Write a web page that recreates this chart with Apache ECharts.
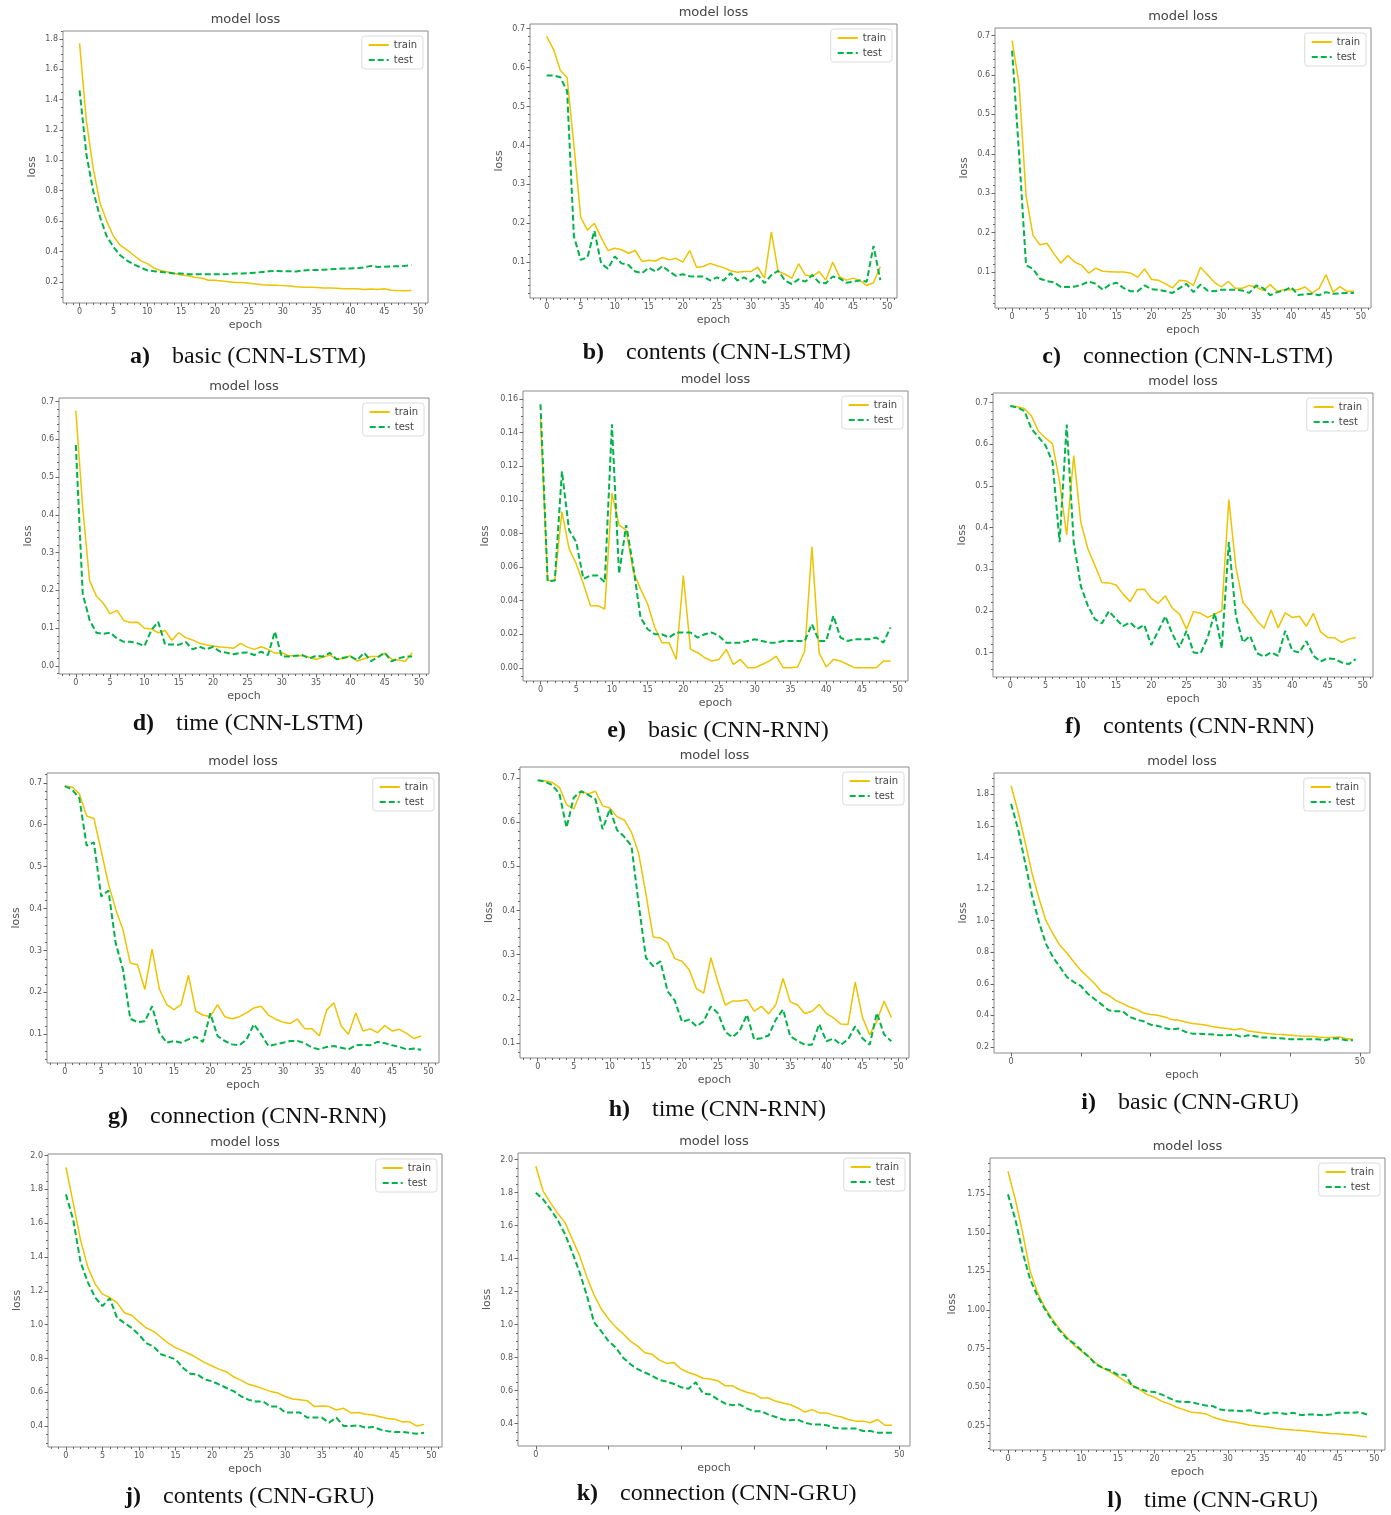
<!DOCTYPE html>
<html>
<head>
<meta charset="utf-8">
<title>model loss</title>
<script src="https://cdn.jsdelivr.net/npm/echarts@6/dist/echarts.min.js"></script>
<style>
html,body{margin:0;padding:0;background:#fff;}
#chart{width:1391px;height:1515px;}
</style>
</head>
<body>
<div id="chart"></div>
<script>
// epochs and tick labels
const epochs = [0,1,2,3,4,5,6,7,8,9,10,11,12,13,14,15,16,17,18,19,20,21,22,23,24,25,26,27,28,29,30,31,32,33,34,35,36,37,38,39,40,41,42,43,44,45,46,47,48,49];
const xTicksFive = [0,5,10,15,20,25,30,35,40,45,50];
const xTicksTen = [0,10,20,30,40,50];
const xLabelsEnds = [0,50];
const yTicks18 = [0.2,0.4,0.6,0.8,1.0,1.2,1.4,1.6,1.8];
const yTicks07 = [0.1,0.2,0.3,0.4,0.5,0.6,0.7];
const yTicks07z = [0.0,0.1,0.2,0.3,0.4,0.5,0.6,0.7];
const yTicks016 = [0,0.02,0.04,0.06,0.08,0.10,0.12,0.14,0.16];
const yTicks20 = [0.4,0.6,0.8,1.0,1.2,1.4,1.6,1.8,2.0];
const yTicksQuarter = [0.25,0.5,0.75,1.0,1.25,1.5,1.75];

// a) basic (CNN-LSTM)
const basicLstmTrain = [1.77,1.26,0.95,0.72,0.60,0.50,0.44,0.41,0.375,0.34,0.32,0.29,0.275,0.265,0.255,0.245,0.24,0.23,0.225,0.21,0.21,0.205,0.20,0.195,0.195,0.19,0.185,0.18,0.178,0.178,0.175,0.172,0.168,0.165,0.165,0.163,0.16,0.16,0.158,0.155,0.155,0.155,0.15,0.153,0.15,0.155,0.145,0.143,0.142,0.143];
const basicLstmTest = [1.46,1.04,0.80,0.63,0.50,0.43,0.375,0.34,0.315,0.295,0.275,0.27,0.265,0.26,0.255,0.255,0.25,0.25,0.25,0.25,0.25,0.25,0.252,0.255,0.255,0.258,0.26,0.265,0.27,0.272,0.27,0.27,0.268,0.275,0.278,0.278,0.28,0.282,0.285,0.287,0.288,0.29,0.295,0.305,0.298,0.30,0.302,0.303,0.305,0.31];
// b) contents (CNN-LSTM)
const contentsLstmTrain = [0.68,0.647,0.593,0.574,0.40,0.215,0.182,0.20,0.163,0.13,0.136,0.132,0.123,0.13,0.102,0.105,0.103,0.112,0.106,0.11,0.10,0.13,0.087,0.089,0.097,0.091,0.086,0.078,0.074,0.076,0.076,0.087,0.059,0.178,0.076,0.069,0.059,0.096,0.067,0.063,0.076,0.054,0.10,0.063,0.054,0.059,0.053,0.04,0.047,0.089];
const contentsLstmTest = [0.58,0.58,0.575,0.54,0.166,0.106,0.113,0.181,0.097,0.083,0.115,0.097,0.093,0.076,0.072,0.086,0.076,0.09,0.076,0.065,0.069,0.064,0.063,0.063,0.053,0.061,0.053,0.072,0.053,0.061,0.05,0.067,0.046,0.067,0.078,0.053,0.044,0.056,0.05,0.067,0.048,0.046,0.063,0.059,0.047,0.05,0.053,0.05,0.142,0.054];
// c) connection (CNN-LSTM)
const connectionLstmTrain = [0.687,0.577,0.294,0.193,0.169,0.173,0.146,0.123,0.142,0.125,0.117,0.097,0.11,0.102,0.101,0.10,0.10,0.097,0.087,0.108,0.081,0.079,0.07,0.06,0.079,0.077,0.066,0.112,0.093,0.074,0.062,0.076,0.059,0.059,0.066,0.062,0.053,0.068,0.051,0.055,0.055,0.055,0.062,0.047,0.058,0.093,0.049,0.063,0.051,0.051];
const connectionLstmTest = [0.662,0.40,0.117,0.108,0.083,0.077,0.074,0.062,0.062,0.063,0.068,0.076,0.07,0.055,0.068,0.073,0.059,0.051,0.051,0.066,0.056,0.055,0.051,0.047,0.059,0.07,0.049,0.068,0.053,0.051,0.055,0.055,0.055,0.053,0.047,0.066,0.059,0.041,0.049,0.053,0.062,0.042,0.043,0.045,0.041,0.049,0.045,0.046,0.047,0.047];
// d) time (CNN-LSTM)
const timeLstmTrain = [0.676,0.42,0.226,0.185,0.166,0.138,0.147,0.12,0.115,0.116,0.10,0.098,0.088,0.094,0.068,0.088,0.075,0.069,0.06,0.056,0.053,0.05,0.049,0.047,0.06,0.05,0.044,0.051,0.044,0.034,0.035,0.027,0.027,0.028,0.023,0.018,0.023,0.029,0.018,0.02,0.027,0.013,0.019,0.025,0.025,0.034,0.018,0.016,0.012,0.035];
const timeLstmTest = [0.585,0.192,0.122,0.088,0.085,0.088,0.073,0.064,0.064,0.06,0.053,0.095,0.117,0.057,0.057,0.056,0.064,0.044,0.051,0.044,0.051,0.038,0.035,0.031,0.035,0.036,0.029,0.038,0.029,0.091,0.025,0.025,0.027,0.029,0.02,0.027,0.025,0.035,0.018,0.022,0.025,0.016,0.035,0.013,0.023,0.035,0.012,0.02,0.025,0.025];
// e) basic (CNN-RNN)
const basicRnnTrain = [0.148,0.052,0.052,0.093,0.071,0.062,0.05,0.037,0.037,0.035,0.104,0.085,0.082,0.057,0.047,0.038,0.024,0.015,0.015,0.005,0.055,0.011,0.009,0.006,0.004,0.005,0.011,0.002,0.005,0.0,0.0,0.002,0.004,0.007,0.0,0.0,0.0005,0.01,0.072,0.009,0.0005,0.005,0.004,0.002,0.0,0.0,0.0,0.0,0.004,0.004];
const basicRnnTest = [0.157,0.0515,0.052,0.117,0.082,0.075,0.053,0.055,0.055,0.051,0.145,0.056,0.085,0.06,0.03,0.023,0.02,0.02,0.018,0.021,0.021,0.021,0.018,0.02,0.021,0.019,0.015,0.015,0.015,0.016,0.017,0.016,0.015,0.015,0.016,0.016,0.016,0.016,0.026,0.016,0.016,0.031,0.018,0.016,0.017,0.017,0.017,0.018,0.015,0.024];
// f) contents (CNN-RNN)
const contentsRnnTrain = [0.692,0.69,0.686,0.668,0.631,0.615,0.601,0.509,0.382,0.573,0.413,0.349,0.309,0.268,0.267,0.262,0.24,0.222,0.251,0.252,0.23,0.218,0.236,0.206,0.192,0.156,0.198,0.194,0.184,0.192,0.20,0.467,0.305,0.22,0.20,0.176,0.158,0.202,0.159,0.195,0.184,0.187,0.163,0.194,0.15,0.136,0.135,0.124,0.132,0.136];
const contentsRnnTest = [0.692,0.688,0.68,0.637,0.617,0.597,0.557,0.365,0.647,0.365,0.26,0.212,0.18,0.17,0.199,0.18,0.163,0.172,0.156,0.166,0.118,0.152,0.187,0.144,0.112,0.152,0.10,0.098,0.136,0.195,0.11,0.365,0.188,0.124,0.14,0.098,0.09,0.10,0.092,0.152,0.104,0.10,0.127,0.092,0.078,0.086,0.084,0.076,0.072,0.084];
// g) connection (CNN-RNN)
const connectionRnnTrain = [0.692,0.69,0.674,0.621,0.615,0.538,0.459,0.398,0.349,0.27,0.266,0.207,0.303,0.208,0.171,0.159,0.171,0.241,0.155,0.146,0.142,0.171,0.142,0.137,0.142,0.151,0.163,0.167,0.146,0.136,0.129,0.126,0.136,0.113,0.113,0.096,0.158,0.175,0.12,0.10,0.151,0.108,0.113,0.104,0.121,0.108,0.112,0.102,0.09,0.096];
const connectionRnnTest = [0.692,0.684,0.663,0.55,0.558,0.429,0.443,0.317,0.254,0.137,0.129,0.131,0.167,0.104,0.08,0.084,0.08,0.088,0.094,0.082,0.15,0.096,0.084,0.076,0.074,0.088,0.124,0.10,0.072,0.076,0.08,0.084,0.084,0.079,0.068,0.064,0.07,0.072,0.068,0.064,0.074,0.075,0.074,0.082,0.079,0.074,0.07,0.064,0.066,0.063];
// h) time (CNN-RNN)
const timeRnnTrain = [0.695,0.694,0.69,0.679,0.64,0.63,0.67,0.664,0.67,0.637,0.632,0.612,0.605,0.577,0.529,0.437,0.34,0.338,0.327,0.291,0.285,0.266,0.223,0.213,0.293,0.236,0.186,0.195,0.195,0.198,0.172,0.183,0.166,0.187,0.246,0.193,0.186,0.167,0.172,0.187,0.167,0.157,0.143,0.142,0.238,0.158,0.119,0.149,0.195,0.158];
const timeRnnTest = [0.695,0.692,0.684,0.665,0.588,0.656,0.67,0.662,0.652,0.584,0.63,0.582,0.567,0.546,0.414,0.293,0.274,0.285,0.217,0.196,0.148,0.153,0.138,0.149,0.183,0.167,0.125,0.113,0.128,0.164,0.108,0.111,0.117,0.153,0.176,0.115,0.105,0.096,0.096,0.143,0.104,0.11,0.096,0.108,0.138,0.111,0.096,0.168,0.119,0.104];
// i) basic (CNN-GRU)
const basicGruTrain = [1.855,1.69,1.50,1.30,1.14,1.0,0.917,0.843,0.795,0.738,0.685,0.643,0.60,0.548,0.527,0.495,0.474,0.453,0.438,0.415,0.405,0.40,0.39,0.373,0.369,0.358,0.348,0.343,0.337,0.327,0.322,0.316,0.308,0.316,0.30,0.295,0.289,0.284,0.28,0.278,0.274,0.27,0.268,0.268,0.263,0.259,0.259,0.263,0.253,0.249];
const basicGruTest = [1.74,1.58,1.37,1.16,0.99,0.853,0.769,0.706,0.643,0.611,0.586,0.537,0.502,0.468,0.432,0.426,0.426,0.39,0.373,0.362,0.341,0.333,0.32,0.31,0.316,0.295,0.284,0.284,0.28,0.278,0.274,0.274,0.278,0.263,0.274,0.268,0.259,0.259,0.257,0.253,0.249,0.249,0.249,0.249,0.249,0.242,0.253,0.253,0.242,0.242];
// j) contents (CNN-GRU)
const contentsGruTrain = [1.93,1.72,1.50,1.34,1.24,1.18,1.16,1.13,1.07,1.055,1.016,0.98,0.96,0.925,0.89,0.864,0.845,0.825,0.80,0.775,0.755,0.735,0.72,0.69,0.67,0.647,0.635,0.62,0.605,0.595,0.575,0.56,0.555,0.55,0.515,0.518,0.515,0.495,0.505,0.478,0.48,0.47,0.465,0.455,0.445,0.44,0.425,0.425,0.40,0.41];
const contentsGruTest = [1.77,1.62,1.37,1.25,1.16,1.11,1.155,1.04,1.01,0.98,0.94,0.89,0.87,0.825,0.81,0.795,0.745,0.71,0.705,0.675,0.665,0.645,0.625,0.605,0.575,0.555,0.545,0.545,0.515,0.515,0.48,0.48,0.48,0.45,0.45,0.45,0.42,0.45,0.40,0.40,0.405,0.39,0.395,0.38,0.37,0.365,0.365,0.36,0.355,0.36];
// k) connection (CNN-GRU)
const connectionGruTrain = [1.96,1.81,1.74,1.675,1.62,1.52,1.42,1.29,1.18,1.095,1.035,0.985,0.945,0.90,0.87,0.83,0.82,0.785,0.765,0.77,0.73,0.71,0.695,0.675,0.67,0.66,0.63,0.63,0.607,0.59,0.58,0.555,0.555,0.535,0.525,0.515,0.495,0.47,0.485,0.465,0.465,0.45,0.44,0.425,0.415,0.415,0.405,0.425,0.39,0.39];
const connectionGruTest = [1.80,1.76,1.70,1.635,1.55,1.44,1.32,1.18,1.015,0.96,0.90,0.86,0.80,0.76,0.73,0.71,0.69,0.665,0.655,0.64,0.62,0.612,0.65,0.583,0.577,0.547,0.522,0.512,0.516,0.492,0.475,0.475,0.455,0.44,0.425,0.42,0.425,0.405,0.395,0.395,0.39,0.375,0.37,0.37,0.37,0.355,0.355,0.345,0.345,0.345];
// l) time (CNN-GRU)
const timeGruTrain = [1.90,1.718,1.503,1.256,1.116,1.019,0.944,0.88,0.826,0.772,0.733,0.697,0.654,0.622,0.596,0.568,0.536,0.51,0.482,0.45,0.433,0.407,0.39,0.368,0.353,0.336,0.332,0.325,0.304,0.289,0.278,0.271,0.263,0.252,0.246,0.241,0.235,0.228,0.224,0.22,0.218,0.213,0.207,0.203,0.198,0.196,0.192,0.188,0.181,0.177];
const timeGruTest = [1.75,1.589,1.374,1.202,1.094,1.009,0.933,0.869,0.815,0.783,0.74,0.697,0.647,0.622,0.607,0.579,0.579,0.504,0.489,0.471,0.467,0.45,0.428,0.407,0.402,0.402,0.39,0.379,0.375,0.353,0.347,0.347,0.342,0.349,0.332,0.325,0.332,0.332,0.325,0.332,0.317,0.321,0.321,0.317,0.321,0.332,0.332,0.332,0.336,0.321];

// panel layout: box = [left, top, width, height], cap = [text x, text y]
const panels = [
    {tag:'a)', caption:'basic (CNN-LSTM)', train:basicLstmTrain, test:basicLstmTest, yTicks:yTicks18, digits:1, xTicks:xTicksFive, xLabels:xTicksFive, xMinor:true, box:[63,31,365,272], cap:[172,357], nameGap:25},
    {tag:'b)', caption:'contents (CNN-LSTM)', train:contentsLstmTrain, test:contentsLstmTest, yTicks:yTicks07, digits:1, xTicks:xTicksFive, xLabels:xTicksFive, xMinor:true, box:[530,24,367,274], cap:[626,353], nameGap:25},
    {tag:'c)', caption:'connection (CNN-LSTM)', train:connectionLstmTrain, test:connectionLstmTest, yTicks:yTicks07, digits:1, xTicks:xTicksFive, xLabels:xTicksFive, xMinor:true, box:[995,28,376,280], cap:[1083,357], nameGap:25},
    {tag:'d)', caption:'time (CNN-LSTM)', train:timeLstmTrain, test:timeLstmTest, yTicks:yTicks07z, digits:1, xTicks:xTicksFive, xLabels:xTicksFive, xMinor:true, box:[59,398,370,276], cap:[176,724], nameGap:25},
    {tag:'e)', caption:'basic (CNN-RNN)', train:basicRnnTrain, test:basicRnnTest, yTicks:yTicks016, digits:2, xTicks:xTicksFive, xLabels:xTicksFive, xMinor:true, box:[523,391,385,290], cap:[648,731], nameGap:32},
    {tag:'f)', caption:'contents (CNN-RNN)', train:contentsRnnTrain, test:contentsRnnTest, yTicks:yTicks07, digits:1, xTicks:xTicksFive, xLabels:xTicksFive, xMinor:true, box:[993,393,380,284], cap:[1103,727], nameGap:25},
    {tag:'g)', caption:'connection (CNN-RNN)', train:connectionRnnTrain, test:connectionRnnTest, yTicks:yTicks07, digits:1, xTicks:xTicksFive, xLabels:xTicksFive, xMinor:true, box:[47,773,392,290], cap:[150,1117], nameGap:25},
    {tag:'h)', caption:'time (CNN-RNN)', train:timeRnnTrain, test:timeRnnTest, yTicks:yTicks07, digits:1, xTicks:xTicksFive, xLabels:xTicksFive, xMinor:true, box:[520,767,389,291], cap:[652,1110], nameGap:25},
    {tag:'i)', caption:'basic (CNN-GRU)', train:basicGruTrain, test:basicGruTest, yTicks:yTicks18, digits:1, xTicks:xTicksTen, xLabels:xLabelsEnds, xMinor:false, box:[994,773,376,280], cap:[1118,1103], nameGap:25},
    {tag:'j)', caption:'contents (CNN-GRU)', train:contentsGruTrain, test:contentsGruTest, yTicks:yTicks20, digits:1, xTicks:xTicksFive, xLabels:xTicksFive, xMinor:true, box:[48,1154,394,293], cap:[163,1497], nameGap:25},
    {tag:'k)', caption:'connection (CNN-GRU)', train:connectionGruTrain, test:connectionGruTest, yTicks:yTicks20, digits:1, xTicks:xTicksTen, xLabels:xLabelsEnds, xMinor:false, box:[518,1153,392,293], cap:[620,1494], nameGap:25},
    {tag:'l)', caption:'time (CNN-GRU)', train:timeGruTrain, test:timeGruTest, yTicks:yTicksQuarter, digits:2, xTicks:xTicksFive, xLabels:xTicksFive, xMinor:true, box:[990,1158,395,292], cap:[1144,1501], nameGap:32}
];

const W = 1391;
const X_MIN = -2.45, X_MAX = 51.45;
const trainColor = '#EEC300';
const testColor = '#00B34A';
const sans = '"DejaVu Sans", sans-serif';
const serif = '"Liberation Serif", "Times New Roman", serif';

// matplotlib style minor ticks between the major ones
function minorTicks(ticks, min, max) {
    const step = ticks[1] - ticks[0];
    const mant = step / Math.pow(10, Math.floor(Math.log10(step) + 1e-9));
    const nd = [1, 2.5, 5, 10].some(m => Math.abs(mant - m) < 1e-6) ? 5 : 4;
    const ms = step / nd;
    const out = [];
    const start = Math.ceil((min - ticks[0]) / ms - 1e-9);
    for (let k = start; ticks[0] + k * ms <= max + 1e-9; k++) {
        if (((k % nd) + nd) % nd !== 0) out.push(+(ticks[0] + k * ms).toFixed(6));
    }
    return out;
}

const grid = [], xAxis = [], yAxis = [], series = [], legend = [], graphic = [];
const tickLine = {color:'#666', width:1};
const labelStyle = {fontSize:8, color:'#555', fontFamily:sans};
const nameStyle = {fontSize:11, color:'#555', fontFamily:sans};
const noLine = {show:false, onZero:false};

panels.forEach((p, i) => {
    const [l, t, w, h] = p.box;
    grid.push({left:l, top:t, width:w, height:h, show:true, borderColor:'#8a8a8a', borderWidth:1, backgroundColor:'#fff'});

    const all = p.train.concat(p.test);
    const lo = Math.min(...all), hi = Math.max(...all), pad = (hi - lo) * 0.05;
    const yMin = lo - pad, yMax = hi + pad;
    const yMajor = p.yTicks.filter(v => v >= yMin && v <= yMax);

    xAxis.push({
        gridIndex:i, type:'value', position:'bottom', min:X_MIN, max:X_MAX,
        name:'epoch', nameLocation:'middle', nameGap:17, nameTextStyle:nameStyle,
        axisLine:noLine, splitLine:{show:false},
        axisTick:{show:true, length:3.5, lineStyle:tickLine, customValues:p.xTicks},
        axisLabel:Object.assign({customValues:p.xLabels, margin:5}, labelStyle)
    });
    xAxis.push({
        gridIndex:i, type:'value', position:'bottom', min:X_MIN, max:X_MAX,
        axisLine:noLine, splitLine:{show:false}, axisLabel:{show:false},
        axisTick:p.xMinor ? {show:true, length:2, lineStyle:tickLine, customValues:minorTicks(p.xTicks, X_MIN, X_MAX)} : {show:false}
    });
    yAxis.push({
        gridIndex:i, type:'value', position:'left', min:yMin, max:yMax,
        name:'loss', nameLocation:'middle', nameGap:p.nameGap, nameRotate:90, nameTextStyle:nameStyle,
        axisLine:noLine, splitLine:{show:false},
        axisTick:{show:true, length:3.5, lineStyle:tickLine, customValues:yMajor},
        axisLabel:Object.assign({customValues:yMajor, margin:5, formatter:v => (+v).toFixed(p.digits)}, labelStyle)
    });
    yAxis.push({
        gridIndex:i, type:'value', position:'left', min:yMin, max:yMax,
        axisLine:noLine, splitLine:{show:false}, axisLabel:{show:false},
        axisTick:{show:true, length:2, lineStyle:tickLine, customValues:minorTicks(p.yTicks, yMin, yMax)}
    });

    series.push({
        name:'train', type:'line', xAxisIndex:2 * i, yAxisIndex:2 * i,
        data:epochs.map((e, k) => [e, p.train[k]]),
        symbol:'none', z:3,
        lineStyle:{color:trainColor, width:1.5},
        itemStyle:{color:trainColor}
    });
    series.push({
        name:'test', type:'line', xAxisIndex:2 * i, yAxisIndex:2 * i,
        data:epochs.map((e, k) => [e, p.test[k]]),
        symbol:'none', z:4,
        lineStyle:{color:testColor, width:2, type:[6, 3]},
        itemStyle:{color:testColor}
    });

    legend.push({
        right:W - (l + w - 5), top:t + 5, orient:'vertical',
        data:['train', 'test'], selectedMode:false,
        backgroundColor:'#fff', borderColor:'#dcdcdc', borderWidth:1, borderRadius:3,
        padding:[4, 6, 4, 6], itemWidth:20, itemHeight:10, itemGap:5,
        itemStyle:{opacity:0, borderWidth:0},
        textStyle:{fontSize:10, color:'#444', fontFamily:sans}
    });

    graphic.push({
        type:'text', x:l + w / 2, y:t - 11,
        style:{text:'model loss', font:'13px ' + sans, fill:'#444', align:'center', verticalAlign:'middle', textAlign:'center', textVerticalAlign:'middle'}
    });
    graphic.push({
        type:'text', x:p.cap[0] - 22, y:p.cap[1],
        style:{text:p.tag, font:'bold 24px ' + serif, fill:'#111', align:'right', verticalAlign:'middle', textAlign:'right', textVerticalAlign:'middle'}
    });
    graphic.push({
        type:'text', x:p.cap[0], y:p.cap[1],
        style:{text:p.caption, font:'24px ' + serif, fill:'#111', align:'left', verticalAlign:'middle', textAlign:'left', textVerticalAlign:'middle'}
    });
});

const chart = echarts.init(document.getElementById('chart'));
chart.setOption({
    backgroundColor:'#fff',
    animation:false,
    grid:grid,
    xAxis:xAxis,
    yAxis:yAxis,
    legend:legend,
    series:series,
    graphic:graphic
});
</script>
</body>
</html>
